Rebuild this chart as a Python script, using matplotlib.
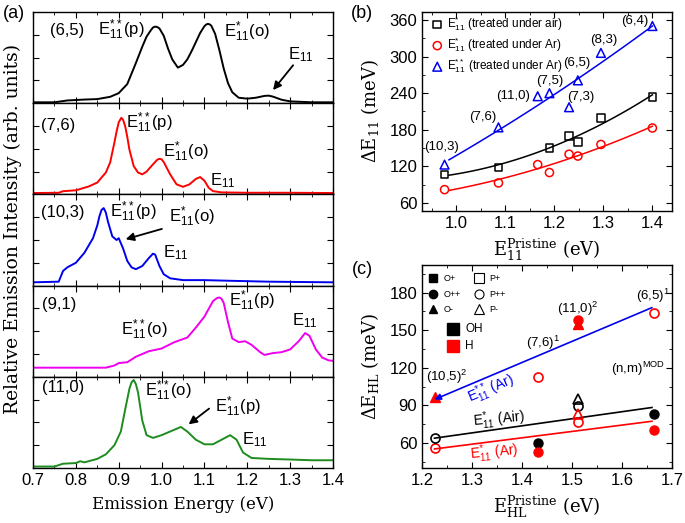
import numpy as np
import matplotlib
matplotlib.use("Agg")
import matplotlib.pyplot as plt
from matplotlib.ticker import MultipleLocator

plt.rcParams['font.family'] = ['Liberation Sans', 'DejaVu Sans']
plt.rcParams['axes.linewidth'] = 1.0
plt.rcParams['xtick.direction'] = 'in'
plt.rcParams['ytick.direction'] = 'in'

# ---------------- data: (a) emission spectra (normalised to panel height)
e65 = [0.70, 0.75, 0.78, 0.82, 0.85, 0.88, 0.90, 0.92, 0.94, 0.955, 0.965, 0.975, 0.98, 0.985,
       0.99, 0.995, 1.005, 1.015, 1.025, 1.038, 1.05, 1.06, 1.07, 1.08, 1.09, 1.10, 1.104, 1.108,
       1.112, 1.116, 1.125, 1.135, 1.145, 1.155, 1.165, 1.18, 1.20, 1.22, 1.24, 1.25, 1.26,
       1.28, 1.30, 1.35, 1.40]
i65 = [0.01, 0.01, 0.03, 0.04, 0.045, 0.07, 0.11, 0.21, 0.44, 0.62, 0.73, 0.80, 0.83, 0.84,
       0.835, 0.82, 0.74, 0.60, 0.48, 0.39, 0.42, 0.48, 0.57, 0.67, 0.77, 0.845, 0.862, 0.87,
       0.865, 0.85, 0.76, 0.58, 0.38, 0.22, 0.12, 0.06, 0.05, 0.06, 0.08, 0.083, 0.072,
       0.038, 0.02, 0.01, 0.01]

e76 = [0.70, 0.76, 0.77, 0.80, 0.83, 0.85, 0.87, 0.88, 0.89, 0.895, 0.90, 0.906, 0.91, 0.915,
       0.92, 0.925, 0.935, 0.945, 0.955, 0.965, 0.98, 0.99, 0.995, 1.0, 1.005, 1.02, 1.035,
       1.05, 1.065, 1.08, 1.09, 1.10, 1.11, 1.12, 1.14, 1.20, 1.30, 1.40]
i76 = [0.015, 0.018, 0.035, 0.045, 0.087, 0.13, 0.24, 0.35, 0.57, 0.69, 0.79, 0.84, 0.82, 0.75,
       0.63, 0.49, 0.31, 0.24, 0.22, 0.25, 0.33, 0.38, 0.39, 0.385, 0.355, 0.22, 0.11,
       0.083, 0.11, 0.17, 0.19, 0.15, 0.072, 0.036, 0.022, 0.018, 0.018, 0.015]

e103 = [0.70, 0.76, 0.77, 0.78, 0.80, 0.82, 0.84, 0.85, 0.855, 0.86, 0.865, 0.87, 0.875, 0.885,
        0.895, 0.90, 0.91, 0.92, 0.93, 0.94, 0.955, 0.97, 0.98, 0.985, 0.995, 1.005, 1.02, 1.05,
        1.10, 1.15, 1.25, 1.40]
i103 = [0.036, 0.043, 0.16, 0.20, 0.25, 0.36, 0.52, 0.66, 0.76, 0.83, 0.85, 0.80, 0.70, 0.54,
        0.50, 0.52, 0.41, 0.27, 0.20, 0.18, 0.215, 0.30, 0.35, 0.34, 0.215, 0.125, 0.08, 0.06,
        0.06, 0.054, 0.043, 0.036]

e91 = [0.70, 0.80, 0.87, 0.89, 0.90, 0.92, 0.94, 0.97, 1.00, 1.03, 1.06, 1.08, 1.10, 1.12,
       1.13, 1.135, 1.14, 1.145, 1.155, 1.165, 1.18, 1.195, 1.21, 1.23, 1.24, 1.26, 1.28, 1.30,
       1.32, 1.335, 1.345, 1.36, 1.375, 1.39, 1.40]
i91 = [0.10, 0.10, 0.10, 0.124, 0.15, 0.16, 0.22, 0.28, 0.31, 0.38, 0.43, 0.54, 0.66, 0.83,
       0.865, 0.87, 0.855, 0.81, 0.60, 0.42, 0.38, 0.39, 0.35, 0.27, 0.24, 0.26, 0.27, 0.30,
       0.39, 0.48, 0.45, 0.30, 0.21, 0.18, 0.175]

e110 = [0.70, 0.75, 0.77, 0.80, 0.81, 0.82, 0.85, 0.87, 0.89, 0.905, 0.915, 0.925, 0.93, 0.935,
        0.94, 0.945, 0.955, 0.965, 0.98, 1.00, 1.02, 1.035, 1.045, 1.06, 1.08, 1.10, 1.12, 1.14,
        1.16, 1.175, 1.19, 1.21, 1.25, 1.30, 1.35, 1.40]
i110 = [0.016, 0.016, 0.047, 0.054, 0.074, 0.062, 0.10, 0.15, 0.25, 0.40, 0.64, 0.87, 0.94,
        0.965, 0.92, 0.83, 0.52, 0.36, 0.33, 0.36, 0.40, 0.43, 0.45, 0.40, 0.31, 0.26, 0.26,
        0.31, 0.36, 0.31, 0.17, 0.11, 0.10, 0.093, 0.085, 0.085]

# ---------------- data: (b) shift vs E11
tubes_b = ['(10,3)', '(7,6)', '(11,0)', '(7,5)', '(7,3)', '(6,5)', '(8,3)', '(6,4)']
e11_b = [0.976, 1.086, 1.166, 1.19, 1.23, 1.248, 1.295, 1.40]
air_x = [0.976, 1.086, 1.19, 1.23, 1.248, 1.295, 1.40]
air_y = [107, 118, 150, 170, 160, 199, 234]
ar_star_y = [82, 93, 123, 110, 140, 137, 156, 183]
ar_dstar_y = [123, 184, 235, 240, 217, 261, 306, 350]
lab_b_x = [0.970, 1.053, 1.116, 1.19, 1.254, 1.246, 1.300, 1.364]
lab_b_y = [152, 201, 235, 260, 234, 289, 327, 359]

# ---------------- data: (c) shift vs E_HL
red_oc_x = [1.225, 1.431, 1.512, 1.664]
red_oc_y = [55.7, 112.5, 76.5, 163.5]
blk_oc_x = [1.225, 1.512]
blk_oc_y = [63.7, 89.3]
red_ft_x = [1.225, 1.512]
red_ft_y = [96.8, 154.7]
blk_fc_x = [1.431, 1.664]
blk_fc_y = [60, 82.7]
red_fc_x = [1.431, 1.512, 1.664]
red_fc_y = [52.8, 158, 70.7]
blk_ot_x = [1.512]
blk_ot_y = [95]
red_ot_x = [1.512]
red_ot_y = [82.7]
fit_c_x = [1.225, 1.66]
fit_c_blue = [94.7, 168]
fit_c_black = [63.8, 88.3]
fit_c_red = [55.2, 77.3]

W, H = 685, 523
fig = plt.figure(figsize=(W / 100, H / 100), dpi=100)


def fx(px):
    return px / W


def fy(py):
    return 1 - py / H


tick_fs = 12
serif = dict(family='DejaVu Serif', math_fontfamily='dejavuserif')

# ================= (a)
spectra = [(e65, i65, 'black'), (e76, i76, 'red'), (e103, i103, '#0000ee'),
           (e91, i91, '#ee00ee'), (e110, i110, '#1e8c1e')]
left, right, top, bot = 33, 333, 12, 468
ph = (bot - top) / 5
axs = []
for k, (ex, iy, col) in enumerate(spectra):
    ax = fig.add_axes([fx(left), fy(top + (k + 1) * ph), (right - left) / W, ph / H])
    ax.plot(ex, iy, color=col, lw=1.4)
    ax.set_xlim(0.7, 1.4)
    ax.set_ylim(0, 1)
    ax.xaxis.set_major_locator(MultipleLocator(0.1))
    ax.xaxis.set_minor_locator(MultipleLocator(0.05))
    ax.set_yticks([0.25, 0.5, 0.75])
    ax.tick_params(which='both', top=True, right=True, labelleft=False, labelsize=tick_fs)
    ax.tick_params(which='major', length=4)
    ax.tick_params(which='minor', length=2)
    if k < 4:
        ax.tick_params(labelbottom=False)
    axs.append(ax)

fs_a = 12
ax = axs[0]
ax.text(0.78, 0.80, '(6,5)', fontsize=fs_a, ha='center', va='center')
ax.text(0.906, 0.80, r'$\mathregular{E_{11}^{**}}$(p)', fontsize=fs_a, ha='center', va='center')
ax.text(1.20, 0.78, r'$\mathregular{E_{11}^{*}}$(o)', fontsize=fs_a, ha='center', va='center')
ax.text(1.326, 0.53, r'$\mathregular{E_{11}}$', fontsize=fs_a, ha='center', va='center')
ax.annotate('', xy=(1.256, 0.12), xytext=(1.311, 0.44),
            arrowprops=dict(arrowstyle='-|>', color='black', lw=1.3, mutation_scale=12))

ax = axs[1]
ax.text(0.758, 0.76, '(7,6)', fontsize=fs_a, ha='center', va='center')
ax.text(0.972, 0.78, r'$\mathregular{E_{11}^{**}}$(p)', fontsize=fs_a, ha='center', va='center')
ax.text(1.058, 0.47, r'$\mathregular{E_{11}^{*}}$(o)', fontsize=fs_a, ha='center', va='center')
ax.text(1.143, 0.15, r'$\mathregular{E_{11}}$', fontsize=fs_a, ha='center', va='center')

ax = axs[2]
ax.text(0.77, 0.80, '(10,3)', fontsize=fs_a, ha='center', va='center')
ax.text(0.933, 0.81, r'$\mathregular{E_{11}^{**}}$(p)', fontsize=fs_a, ha='center', va='center')
ax.text(1.07, 0.75, r'$\mathregular{E_{11}^{*}}$(o)', fontsize=fs_a, ha='center', va='center')
ax.text(1.034, 0.36, r'$\mathregular{E_{11}}$', fontsize=fs_a, ha='center', va='center')
ax.annotate('', xy=(0.91, 0.50), xytext=(1.007, 0.63),
            arrowprops=dict(arrowstyle='-|>', color='black', lw=1.3, mutation_scale=12))

ax = axs[3]
ax.text(0.762, 0.79, '(9,1)', fontsize=fs_a, ha='center', va='center')
ax.text(0.96, 0.52, r'$\mathregular{E_{11}^{**}}$(o)', fontsize=fs_a, ha='center', va='center')
ax.text(1.21, 0.83, r'$\mathregular{E_{11}^{*}}$(p)', fontsize=fs_a, ha='center', va='center')
ax.text(1.334, 0.62, r'$\mathregular{E_{11}}$', fontsize=fs_a, ha='center', va='center')

ax = axs[4]
ax.text(0.77, 0.88, '(11,0)', fontsize=fs_a, ha='center', va='center')
ax.text(1.015, 0.85, r'$\mathregular{E_{11}^{**}}$(o)', fontsize=fs_a, ha='center', va='center')
ax.text(1.178, 0.67, r'$\mathregular{E_{11}^{*}}$(p)', fontsize=fs_a, ha='center', va='center')
ax.text(1.217, 0.31, r'$\mathregular{E_{11}}$', fontsize=fs_a, ha='center', va='center')
ax.annotate('', xy=(1.058, 0.46), xytext=(1.116, 0.67),
            arrowprops=dict(arrowstyle='-|>', color='black', lw=1.3, mutation_scale=12))
ax.set_xlabel('Emission Energy (eV)', fontsize=12, labelpad=6, **serif)

fig.text(fx(13), fy(229), 'Relative Emission Intensity (arb. units)', rotation=90,
         ha='center', va='center', fontsize=13.5, **serif)

# ================= (b)
axb = fig.add_axes([fx(422), fy(211), 250 / W, 199 / H])
axb.scatter(air_x, air_y, marker='s', s=30, facecolors='none', edgecolors='black', lw=1.1,
            label=r'$\mathregular{E_{11}^{*}}$ (treated under air)', zorder=3)
axb.scatter(e11_b, ar_star_y, marker='o', s=34, facecolors='none', edgecolors='red', lw=1.1,
            label=r'$\mathregular{E_{11}^{*}}$ (treated under Ar)', zorder=3)
axb.scatter(e11_b, ar_dstar_y, marker='^', s=40, facecolors='none', edgecolors='#0000ee', lw=1.1,
            label=r'$\mathregular{E_{11}^{**}}$ (treated under Ar)', zorder=3)
xx = np.linspace(0.985, 1.40, 100)
for xs, ys, col in [(air_x, air_y, 'black'), (e11_b, ar_star_y, 'red'),
                    (e11_b, ar_dstar_y, '#0000ee')]:
    p = np.polyfit(xs, ys, 2)
    axb.plot(xx, np.polyval(p, xx), color=col, lw=1.1)
for t, lx, ly in zip(tubes_b, lab_b_x, lab_b_y):
    axb.text(lx, ly, t, fontsize=9.5, ha='center', va='center')
axb.set_xlim(0.93, 1.44)
axb.set_ylim(47, 373)
axb.set_yticks([60, 120, 180, 240, 300, 360])
axb.yaxis.set_minor_locator(MultipleLocator(30))
axb.set_xticks([1.0, 1.1, 1.2, 1.3, 1.4])
axb.xaxis.set_minor_locator(MultipleLocator(0.05))
axb.tick_params(which='both', top=True, right=True, labelsize=tick_fs)
axb.tick_params(which='major', length=4)
axb.tick_params(which='minor', length=2)
axb.legend(loc='upper left', bbox_to_anchor=(-0.005, 1.035), frameon=False, fontsize=8.5,
           handletextpad=0.2, labelspacing=0.2, borderpad=0.3, handlelength=1.2)
axb.set_xlabel(r'E$_{11}^{\mathrm{Pristine}}$ (eV)', fontsize=13, labelpad=4, **serif)
axb.set_ylabel(r'ΔE$_{11}$ (meV)', fontsize=13, labelpad=6, **serif)

# ================= (c)
axc = fig.add_axes([fx(422), fy(468), 250 / W, 203 / H])
ms = 6.5
axc.plot(red_oc_x, red_oc_y, 'o', ms=ms, mfc='none', mec='red', mew=1.2, zorder=3)
axc.plot(blk_oc_x, blk_oc_y, 'o', ms=ms, mfc='none', mec='black', mew=1.2, zorder=3)
axc.plot(red_ft_x, red_ft_y, '^', ms=ms + 0.5, color='red', zorder=3)
axc.plot(blk_fc_x, blk_fc_y, 'o', ms=ms, color='black', zorder=3)
axc.plot(red_fc_x, red_fc_y, 'o', ms=ms, color='red', zorder=3)
axc.plot(blk_ot_x, blk_ot_y, '^', ms=ms + 0.5, mfc='none', mec='black', mew=1.2, zorder=3)
axc.plot(red_ot_x, red_ot_y, '^', ms=ms + 0.5, mfc='none', mec='red', mew=1.2, zorder=3)
axc.plot(fit_c_x, fit_c_black, color='black', lw=1.2)
axc.plot(fit_c_x, fit_c_red, color='red', lw=1.2)
axc.annotate('', xy=(fit_c_x[0], fit_c_blue[0]), xytext=(fit_c_x[1], fit_c_blue[1]),
             arrowprops=dict(arrowstyle='-|>', color='#0000ee', lw=1.2, mutation_scale=9,
                             shrinkA=0, shrinkB=0))
axc.text(1.25, 113, r'(10,5)$\mathregular{^2}$', fontsize=9.5, ha='center', va='center')
axc.text(1.443, 140, r'(7,6)$\mathregular{^1}$', fontsize=9.5, ha='center', va='center')
axc.text(1.512, 167, r'(11,0)$\mathregular{^2}$', fontsize=9.5, ha='center', va='center')
axc.text(1.663, 177, r'(6,5)$\mathregular{^1}$', fontsize=9.5, ha='center', va='center')
axc.text(1.633, 119, r'(n,m)$\mathregular{^{MOD}}$', fontsize=9.5, ha='center', va='center')
axc.text(1.338, 103, r'$\mathregular{E_{11}^{**}}$ (Ar)', fontsize=10, color='#0000ee',
         rotation=23, ha='center', va='center')
axc.text(1.354, 79, r'$\mathregular{E_{11}^{*}}$ (Air)', fontsize=10, color='black',
         rotation=5, ha='center', va='center')
axc.text(1.344, 52, r'$\mathregular{E_{11}^{*}}$ (Ar)', fontsize=10, color='red',
         rotation=5, ha='center', va='center')

# legend of (c) drawn by hand
tr = axc.transAxes
leg_rows = [('s', 'O+', 'P+', 0.934), ('o', 'O++', 'P++', 0.857), ('^', 'O-', 'P-', 0.782)]
for mk, lf, lo, yy in leg_rows:
    axc.plot([0.045], [yy], mk, ms=6, color='black', transform=tr, clip_on=False)
    axc.text(0.085, yy, lf, fontsize=6.5, va='center', transform=tr)
    axc.plot([0.229], [yy], mk, ms=6.5, mfc='none', mec='black', mew=0.8, transform=tr)
    axc.text(0.27, yy, lo, fontsize=6.5, va='center', transform=tr)
for col, lab, yy in [('black', 'OH', 0.683), ('red', 'H', 0.601)]:
    axc.plot([0.125], [yy], 's', ms=8.5, color=col, transform=tr)
    axc.text(0.172, yy, lab, fontsize=8.5, va='center', transform=tr)

axc.set_xlim(1.2, 1.7)
axc.set_ylim(40, 202)
axc.set_yticks([60, 90, 120, 150, 180])
axc.yaxis.set_minor_locator(MultipleLocator(15))
axc.xaxis.set_major_locator(MultipleLocator(0.1))
axc.xaxis.set_minor_locator(MultipleLocator(0.05))
axc.tick_params(which='both', top=True, right=True, labelsize=tick_fs)
axc.tick_params(which='major', length=4)
axc.tick_params(which='minor', length=2)
axc.set_xlabel(r'E$_{\mathrm{HL}}^{\mathrm{Pristine}}$ (eV)', fontsize=13, labelpad=4, **serif)
axc.set_ylabel(r'ΔE$_{\mathrm{HL}}$ (meV)', fontsize=13, labelpad=6, **serif)

fig.text(fx(3), fy(13), '(a)', fontsize=13, ha='left', va='center')
fig.text(fx(362), fy(13), '(b)', fontsize=13, ha='center', va='center')
fig.text(fx(362), fy(270), '(c)', fontsize=13, ha='center', va='center')

fig.savefig('out.png', dpi=100)
